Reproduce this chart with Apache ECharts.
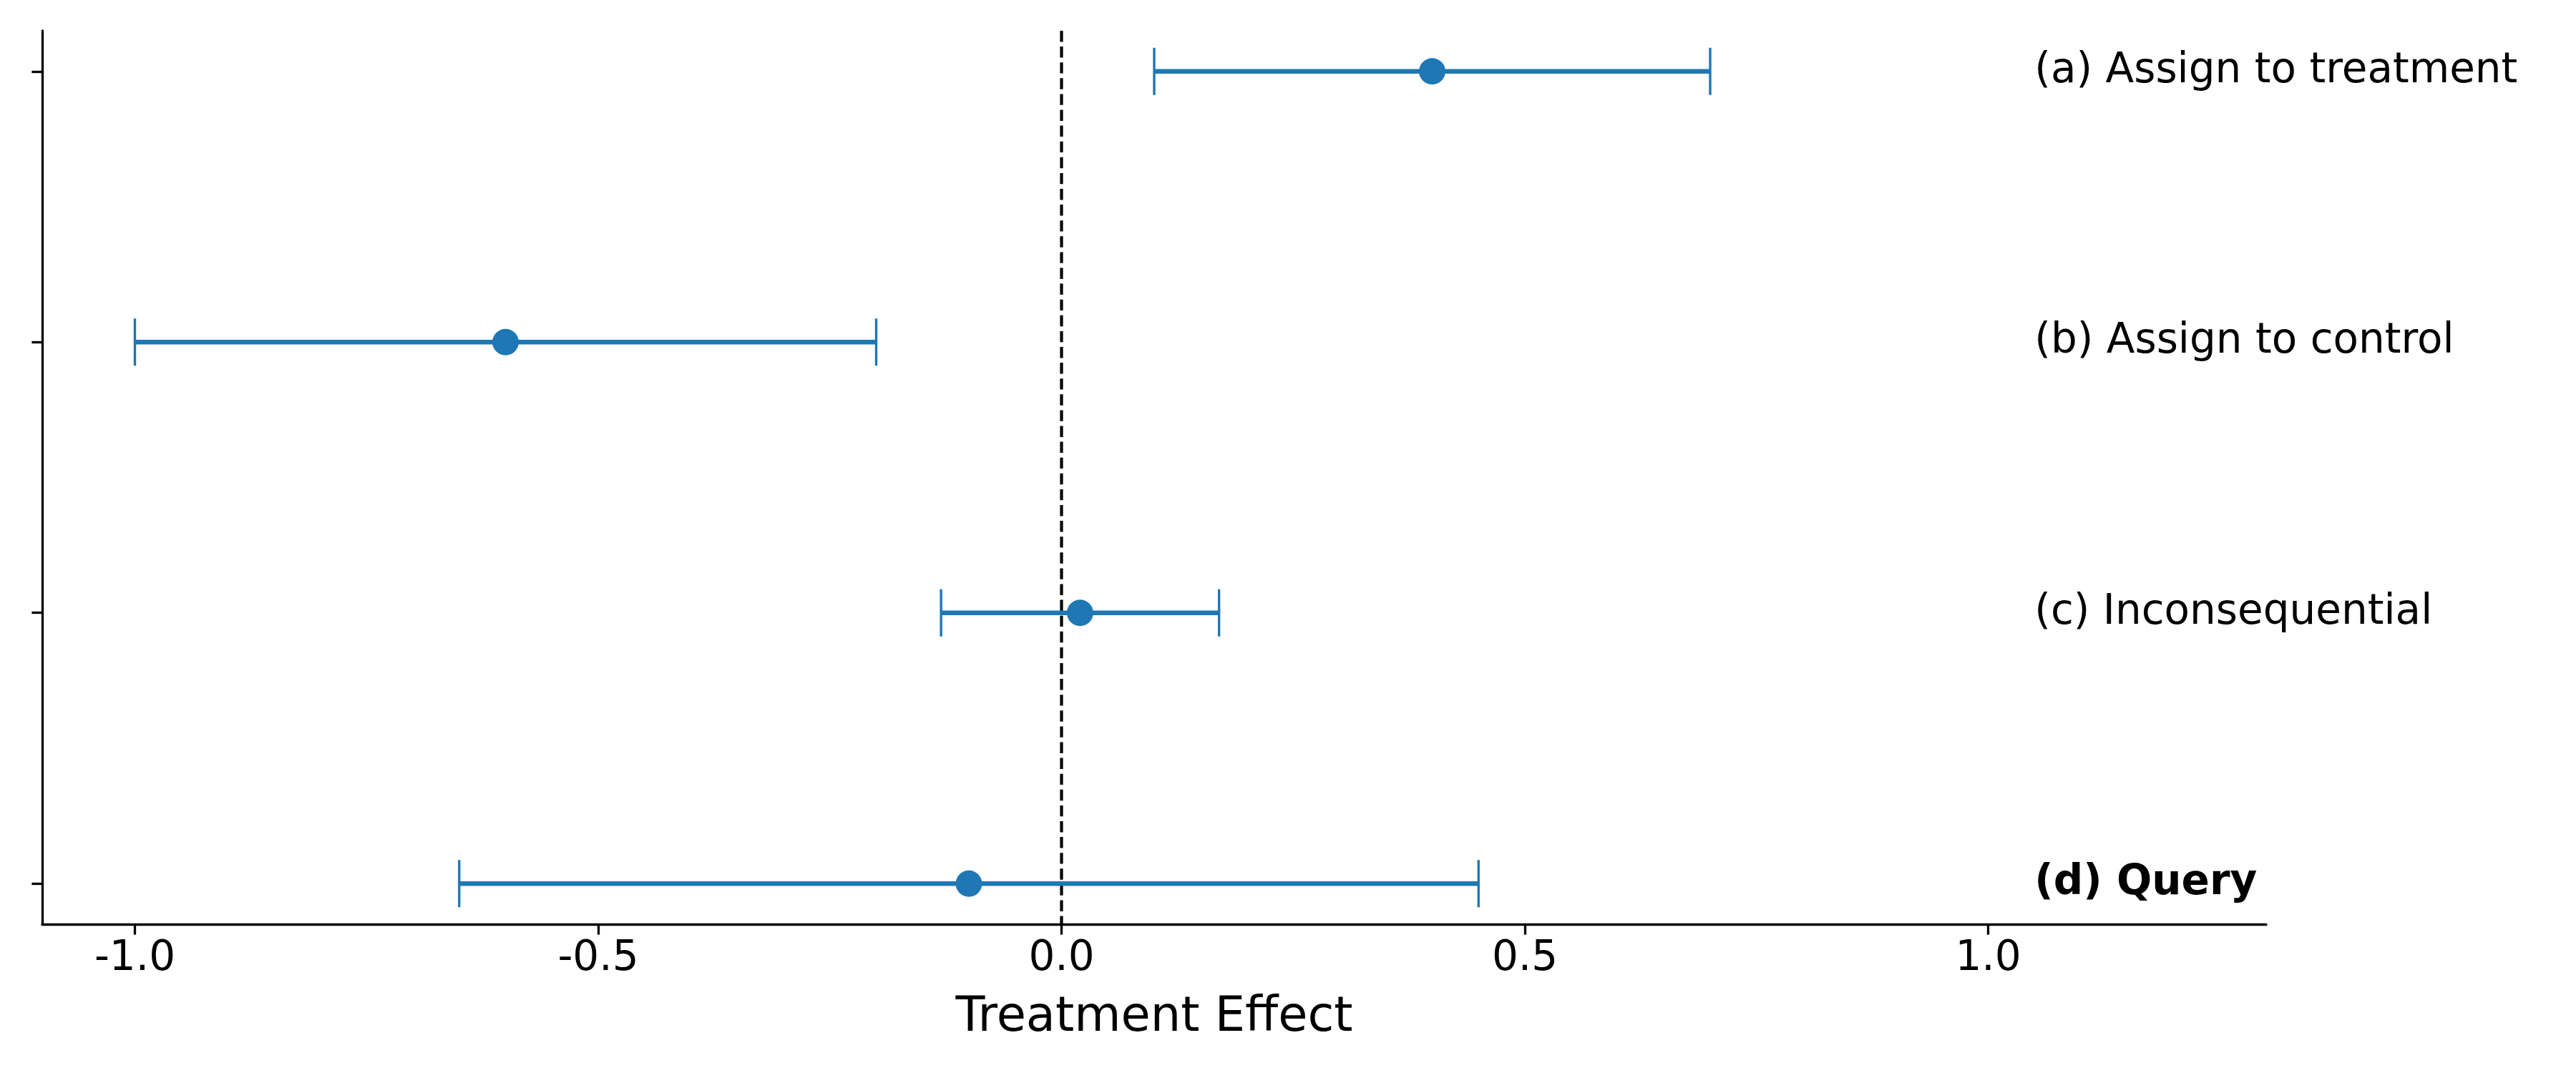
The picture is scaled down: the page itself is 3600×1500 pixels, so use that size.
<!DOCTYPE html>
<html>
<head>
<meta charset="utf-8">
<script src="https://cdn.jsdelivr.net/npm/echarts@6/dist/echarts.min.js"></script>
<style>
  html, body { margin: 0; padding: 0; background: #fff; }
  #chart { width: 3600px; height: 1500px; }
</style>
</head>
<body>
<div id="chart"></div>
<script>
// ---- data ----
const categories = ['(a) Assign to treatment', '(b) Assign to control', '(c) Inconsequential', '(d) Query'];
const rowPositions = [3, 2, 1, 0];
const means = [0.40, -0.60, 0.02, -0.10];
const lower = [0.10, -1.00, -0.13, -0.65];
const upper = [0.70, -0.20, 0.17, 0.45];
const xTicks = [-1.0, -0.5, 0.0, 0.5, 1.0];
const yTicks = [0, 1, 2, 3];
const xAxisName = 'Treatment Effect';
const highlightCategory = '(d) Query';
const labelX = 1.05;
const refLineX = 0;

// ---- styling ----
const BLUE = '#1f77b4';
const FONT = 'DejaVu Sans';

const errData = rowPositions.map((y, i) => [lower[i], upper[i], y]);
const pointData = rowPositions.map((y, i) => [means[i], y]);
const labelData = rowPositions.map((y, i) => [labelX, y, i]);

const chart = echarts.init(document.getElementById('chart'), null, { renderer: 'canvas' });

chart.setOption({
  animation: false,
  backgroundColor: '#ffffff',
  grid: { left: 59, right: 433, top: 43, bottom: 208, containLabel: false },
  xAxis: {
    type: 'value',
    min: -1.1,
    max: 1.3,
    name: xAxisName,
    nameLocation: 'middle',
    nameGap: 98,
    nameTextStyle: { fontFamily: FONT, fontSize: 67, color: '#000' },
    axisLine: { show: true, onZero: false, lineStyle: { color: '#000', width: 3.3 } },
    axisTick: { show: true, inside: false, length: 14.6, lineStyle: { color: '#000', width: 3.3 }, customValues: xTicks },
    axisLabel: {
      show: true, margin: 20, fontFamily: FONT, fontSize: 58, color: '#000',
      customValues: xTicks,
      formatter: v => v.toFixed(1)
    },
    splitLine: { show: false }
  },
  yAxis: {
    type: 'value',
    min: -0.15,
    max: 3.15,
    axisLine: { show: true, onZero: false, lineStyle: { color: '#000', width: 3.3 } },
    axisTick: { show: true, inside: false, length: 14.6, lineStyle: { color: '#000', width: 3.3 }, customValues: yTicks },
    axisLabel: { show: false, customValues: yTicks },
    splitLine: { show: false }
  },
  series: [
    {
      type: 'custom',
      name: 'ref',
      data: [[refLineX]],
      z: 1,
      renderItem: function (params, api) {
        const x = api.coord([api.value(0), 0])[0];
        const cs = params.coordSys;
        return {
          type: 'line',
          shape: { x1: x, y1: cs.y, x2: x, y2: cs.y + cs.height },
          style: { stroke: '#000', lineWidth: 4.2, lineDash: [15.4, 6.7] }
        };
      }
    },
    {
      type: 'custom',
      name: 'ci',
      data: errData,
      z: 2,
      renderItem: function (params, api) {
        const p1 = api.coord([api.value(0), api.value(2)]);
        const p2 = api.coord([api.value(1), api.value(2)]);
        const h = 33;
        return {
          type: 'group',
          children: [
            { type: 'line', shape: { x1: p1[0], y1: p1[1], x2: p2[0], y2: p2[1] }, style: { stroke: BLUE, lineWidth: 6.3 } },
            { type: 'line', shape: { x1: p1[0], y1: p1[1] - h, x2: p1[0], y2: p1[1] + h }, style: { stroke: BLUE, lineWidth: 3.4 } },
            { type: 'line', shape: { x1: p2[0], y1: p2[1] - h, x2: p2[0], y2: p2[1] + h }, style: { stroke: BLUE, lineWidth: 3.4 } }
          ]
        };
      }
    },
    {
      type: 'scatter',
      name: 'mean',
      data: pointData,
      symbol: 'circle',
      symbolSize: 37,
      itemStyle: { color: BLUE, opacity: 1 },
      z: 3
    },
    {
      type: 'custom',
      name: 'labels',
      data: labelData,
      z: 4,
      renderItem: function (params, api) {
        const p = api.coord([api.value(0), api.value(1)]);
        const txt = categories[api.value(2)];
        return {
          type: 'text',
          style: {
            text: txt,
            x: p[0],
            y: p[1],
            align: 'left',
            verticalAlign: 'middle',
            fontFamily: FONT,
            fontSize: 58,
            fontWeight: txt === highlightCategory ? 'bold' : 'normal',
            fill: '#000'
          }
        };
      }
    }
  ]
});
</script>
</body>
</html>
